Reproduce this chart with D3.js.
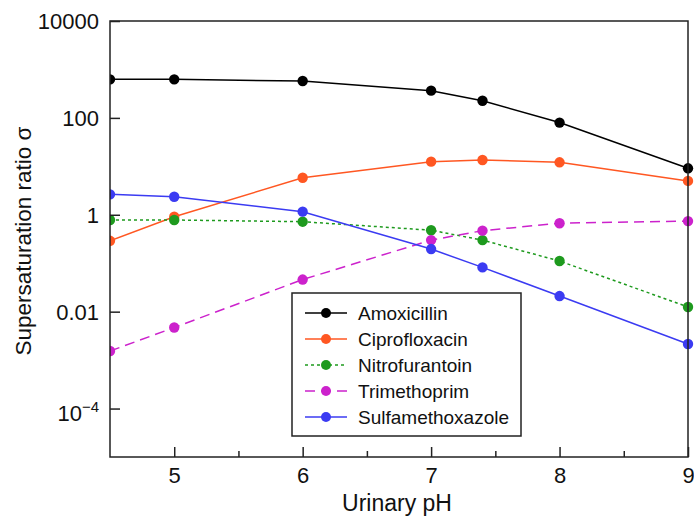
<!DOCTYPE html>
<html><head><meta charset="utf-8">
<script src="https://cdn.jsdelivr.net/npm/d3@7"></script>
<style>body{margin:0;background:#fff}svg{display:block}</style>
</head><body>
<svg id="c" width="694" height="517"></svg>
<script>
const pH = [4.5, 5, 6, 7, 7.4, 8, 9];
const amoxicillin = [625, 625, 577, 365, 226, 80, 9.1];
const ciprofloxacin = [0.29, 0.91, 5.8, 12.5, 13.5, 12.1, 5.0];
const nitrofurantoin = [0.78, 0.78, 0.72, 0.48, 0.30, 0.111, 0.0125];
const trimethoprim = [0.00154, 0.0047, 0.046, 0.30, 0.47, 0.67, 0.74];
const sulfamethoxazole = [2.64, 2.36, 1.16, 0.196, 0.082, 0.021, 0.00215];
const seriesNames = ["Amoxicillin","Ciprofloxacin","Nitrofurantoin","Trimethoprim","Sulfamethoxazole"];
const xTicks = [5, 6, 7, 8, 9];
const xMinorTicks = [5.5, 6.5, 7.5, 8.5];
const yTicks = [1e4, 1e2, 1, 1e-2, 1e-4];

const series = [
  {name: seriesNames[0], values: amoxicillin, color: "#000000", dash: null},
  {name: seriesNames[1], values: ciprofloxacin, color: "#ff5722", dash: null},
  {name: seriesNames[2], values: nitrofurantoin, color: "#1e9a1e", dash: "3,3"},
  {name: seriesNames[3], values: trimethoprim, color: "#cc22cc", dash: "10,6"},
  {name: seriesNames[4], values: sulfamethoxazole, color: "#3b3bf2", dash: null}
];

const svg = d3.select("#c");
const L = 110, R = 688, T = 21, B = 457;
const x = d3.scaleLinear().domain([4.5, 9]).range([L, R]);
const y = d3.scaleLog().domain([1e-5, 1e4]).range([B, T]);
const font = "Liberation Sans, Arial, sans-serif";

svg.append("defs").append("clipPath").attr("id","clip")
  .append("rect").attr("x", L).attr("y", T - 8).attr("width", R - L + 8).attr("height", B - T + 8);

const line = d3.line().x((d,i)=>x(pH[i])).y(d=>y(d));
const g = svg.append("g").attr("clip-path","url(#clip)");
series.forEach(s => {
  g.append("path").datum(s.values).attr("d", line)
    .attr("fill","none").attr("stroke", s.color).attr("stroke-width", 1.5)
    .attr("stroke-dasharray", s.dash);
  g.selectAll(null).data(s.values).enter().append("circle")
    .attr("cx",(d,i)=>x(pH[i])).attr("cy",d=>y(d)).attr("r",5.2)
    .attr("fill", s.color);
});

svg.append("rect").attr("x",L).attr("y",T).attr("width",R-L).attr("height",B-T)
  .attr("fill","none").attr("stroke","#222").attr("stroke-width",1.5);

// x axis
const xAxis = svg.append("g").attr("transform",`translate(0,${B})`)
  .call(d3.axisBottom(x).tickValues(xTicks).tickSize(-10).tickFormat(d3.format("d")));
xAxis.select(".domain").remove();
xAxis.selectAll("line").attr("stroke","#222").attr("stroke-width",1.5);
xAxis.selectAll("text").attr("y",26).attr("dy",0)
  .attr("font-family",font).attr("font-size",22).attr("fill","#111");
const xMinor = svg.append("g").attr("transform",`translate(0,${B})`)
  .call(d3.axisBottom(x).tickValues(xMinorTicks).tickSize(-6).tickFormat(""));
xMinor.select(".domain").remove();
xMinor.selectAll("line").attr("stroke","#222").attr("stroke-width",1.5);

// y axis
const yAxis = svg.append("g").attr("transform",`translate(${L},0)`)
  .call(d3.axisLeft(y).tickValues(yTicks).tickSize(-10).tickFormat(""));
yAxis.select(".domain").remove();
yAxis.selectAll("line").attr("stroke","#222").attr("stroke-width",1.5);
yAxis.selectAll(".tick").each(function(d){
  const t = d3.select(this).append("text").attr("x",-11).attr("dy","0.35em")
    .attr("text-anchor","end").attr("font-family",font).attr("font-size",22).attr("fill","#111");
  if (d < 1e-3) {
    const e = Math.round(Math.log10(d));
    t.attr("dy","0.55em");
    t.append("tspan").text("10");
    t.append("tspan").attr("dy","-0.6em").attr("font-size",15).text("\u2212" + Math.abs(e));
  } else {
    t.text(d >= 1 ? d3.format("d")(d) : String(d));
  }
});

// axis titles
svg.append("text").attr("x",(L+R)/2 - 2).attr("y",511).attr("text-anchor","middle")
  .attr("font-family",font).attr("font-size",23).attr("fill","#111").text("Urinary pH");
svg.append("text").attr("transform",`translate(31,${(T+B)/2 + 2}) rotate(-90)`).attr("text-anchor","middle")
  .attr("font-family",font).attr("font-size",22.5).attr("fill","#111").text("Supersaturation ratio \u03c3");

// legend
const lg = svg.append("g");
lg.append("rect").attr("x",292).attr("y",293).attr("width",229).attr("height",143)
  .attr("fill","#fff").attr("stroke","#222").attr("stroke-width",1.5);
series.forEach((s,i) => {
  const yy = 313 + i*26;
  lg.append("line").attr("x1",305).attr("x2",347).attr("y1",yy).attr("y2",yy)
    .attr("stroke",s.color).attr("stroke-width",1.5).attr("stroke-dasharray",s.dash);
  lg.append("circle").attr("cx",326).attr("cy",yy).attr("r",5).attr("fill",s.color);
  lg.append("text").attr("x",358).attr("y",yy).attr("dy","0.35em")
    .attr("font-family",font).attr("font-size",19).attr("fill","#111").text(s.name);
});
</script>
</body></html>
